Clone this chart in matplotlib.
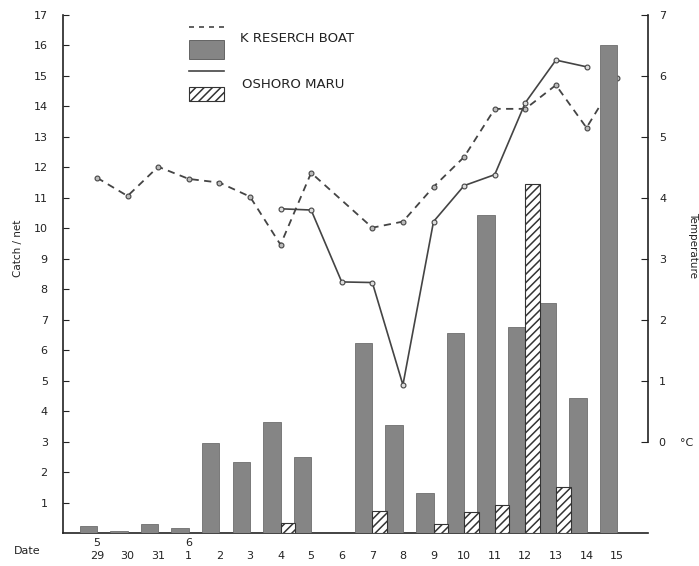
import matplotlib
matplotlib.use("Agg")
import matplotlib.pyplot as plt
from matplotlib.lines import Line2D
from matplotlib.patches import Rectangle
import numpy as np

# ---- data ----
days = ['29', '30', '31', '1', '2', '3', '4', '5', '6', '7', '8', '9',
        '10', '11', '12', '13', '14', '15']
month_marks = {0: '5', 3: '6'}
k_catch = [0.23, 0.07, 0.30, 0.17, 2.95, 2.34, 3.63, 2.50, 0.0, 6.25,
           3.56, 1.32, 6.55, 10.45, 6.75, 7.55, 4.42, 16.0]
o_catch = [0, 0, 0, 0, 0, 0, 0.33, 0, 0, 0.73, 0, 0.30, 0.70, 0.93,
           11.45, 1.52, 0, 0]
k_temp = [4.33, 4.03, 4.51, 4.31, 4.25, 4.02, 3.23, 4.41, None, 3.51,
          3.61, 4.18, 4.67, 5.46, 5.46, 5.85, 5.15, 5.97]
o_temp = [None, None, None, None, None, None, 3.82, 3.80, 2.62, 2.61,
          0.93, 3.61, 4.20, 4.38, 5.56, 6.26, 6.15, None]
left_ticks = list(range(1, 18))
right_ticks = list(range(0, 8))
right_ticklabels = ['0    \u00b0C', '1', '2', '3', '4', '5', '6', '7']

W, H = 699, 566
plt.rcParams['hatch.linewidth'] = 1.1
plt.rcParams['font.family'] = ['DejaVu Sans']

fig = plt.figure(figsize=(W / 100, H / 100), dpi=100)
ax = fig.add_axes([63 / W, 33 / H, 585 / W, 518 / H])
ax2 = ax.twinx()

x = np.arange(len(days))

# bars on primary axis (drawn above lines)
ax.bar(x, k_catch, width=-0.57, align='edge', color='#858585',
       edgecolor='#6e6e6e', linewidth=0.6, zorder=3)
o_arr = np.array(o_catch, dtype=float)
mask = o_arr > 0
ax.bar(x[mask], o_arr[mask], width=0.48, align='edge', color='white',
       edgecolor='#333333', hatch='////', linewidth=0.8, zorder=3)

# temperature lines on twin axis
kx = [xi for xi, v in zip(x, k_temp) if v is not None]
ky = [v for v in k_temp if v is not None]
ox = [xi for xi, v in zip(x, o_temp) if v is not None]
oy = [v for v in o_temp if v is not None]
ax2.plot(kx, ky, linestyle=(0, (4, 3)), color='#444444', linewidth=1.3,
         marker='o', markersize=3.5, markerfacecolor='#bbbbbb',
         markeredgecolor='#444444', markeredgewidth=0.8)
ax2.plot(ox, oy, linestyle='-', color='#444444', linewidth=1.2,
         marker='o', markersize=3.5, markerfacecolor='#dddddd',
         markeredgecolor='#444444', markeredgewidth=0.8)

ax.set_zorder(ax2.get_zorder() + 1)
ax.patch.set_visible(False)

ax.set_xlim(-1.11, 18.01)
ax.set_ylim(0, 17)
ax2.set_ylim(-1.5, 7)

for a in (ax, ax2):
    a.spines['top'].set_visible(False)
ax.spines['right'].set_visible(False)
ax2.spines['left'].set_visible(False)
ax2.spines['bottom'].set_visible(False)
ax2.spines['right'].set_bounds(0, 7)
for s in (ax.spines['left'], ax.spines['bottom'], ax2.spines['right']):
    s.set_color('#222222')
    s.set_linewidth(1.2)

ax.set_yticks(left_ticks)
ax.set_yticklabels([str(t) for t in left_ticks])
ax.tick_params(axis='y', direction='in', length=4, width=0.8, pad=11,
               labelsize=8, colors='#222222')
ax.set_xticks(x)
ax.set_xticklabels(days)
ax.tick_params(axis='x', length=0, pad=13, labelsize=8, colors='#222222')

ax2.set_yticks(right_ticks)
ax2.set_yticklabels(right_ticklabels)
ax2.tick_params(axis='y', direction='in', length=5, width=0.8, pad=8,
                labelsize=8, colors='#222222')

for i, m in month_marks.items():
    ax.annotate(m, xy=(x[i], 0), xycoords=('data', 'axes fraction'),
                xytext=(0, -7), textcoords='offset points', ha='center',
                va='center', fontsize=8, color='#222222')

def fx(px):
    return px / W

def fy(py):
    return 1 - py / H

fig.text(fx(27), fy(551), 'Date', ha='center', va='center', fontsize=8,
         color='#222222')
fig.text(fx(18), fy(248), 'Catch / net', rotation=90, ha='center',
         va='center', fontsize=7.5, color='#222222')
fig.text(fx(693), fy(245), 'Temperature', rotation=270, ha='center',
         va='center', fontsize=7.5, color='#222222')

# legend
fig.add_artist(Line2D([fx(189), fx(224)], [fy(27), fy(27)],
                      transform=fig.transFigure, linestyle=(0, (3, 3)),
                      color='#444444', linewidth=1.2))
fig.add_artist(Rectangle((fx(189), fy(59)), fx(224) - fx(189),
                         fy(40) - fy(59), transform=fig.transFigure,
                         facecolor='#858585', edgecolor='#555555',
                         linewidth=0.6))
fig.add_artist(Line2D([fx(189), fx(224)], [fy(71), fy(71)],
                      transform=fig.transFigure, linestyle='-',
                      color='#444444', linewidth=1.2))
fig.add_artist(Rectangle((fx(189), fy(101)), fx(224) - fx(189),
                         fy(87) - fy(101), transform=fig.transFigure,
                         facecolor='white', edgecolor='#333333',
                         hatch='////', linewidth=0.8))
fig.text(fx(240), fy(39), 'K RESERCH BOAT', ha='left', va='center',
         fontsize=9.5, color='#222222')
fig.text(fx(242), fy(85), 'OSHORO MARU', ha='left', va='center',
         fontsize=9.5, color='#222222')

fig.savefig('out.png', dpi=100)
